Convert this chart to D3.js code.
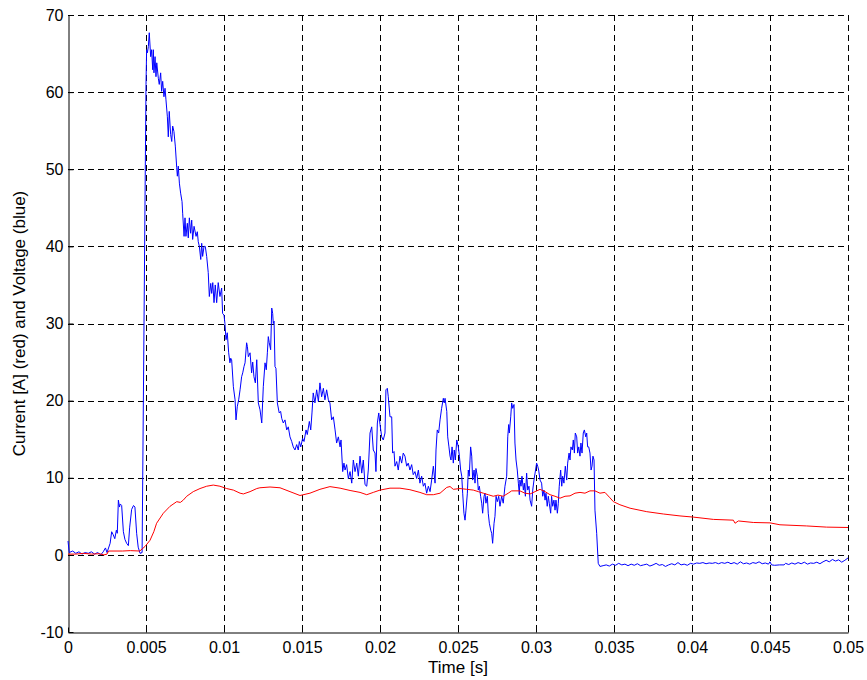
<!DOCTYPE html>
<html>
<head>
<meta charset="utf-8">
<script src="https://cdn.jsdelivr.net/npm/d3@7"></script>
<style>
  html, body { margin: 0; padding: 0; background: #fff; }
  svg { display: block; }
  text { font-family: "Liberation Sans", Arial, Helvetica, sans-serif; fill: #000; }
</style>
</head>
<body>
<svg id="chart" width="867" height="680"></svg>
<script>
// ---- data (time in ms, value) ----
const xTicks = [0, 0.005, 0.01, 0.015, 0.02, 0.025, 0.03, 0.035, 0.04, 0.045, 0.05];
const xTickLabels = ["0", "0.005", "0.01", "0.015", "0.02", "0.025", "0.03", "0.035", "0.04", "0.045", "0.05"];
const yTicks = [-10, 0, 10, 20, 30, 40, 50, 60, 70];
const yTickLabels = ["-10", "0", "10", "20", "30", "40", "50", "60", "70"];
const xLabel = "Time [s]";
const yLabel = "Current [A] (red) and Voltage (blue)";

// voltage (blue): [time ms, volts]
const voltage = [
[0,1.8],[0.08,0.3],[0.3,0.5],[0.5,0.2],[0.7,0.4],[0.9,0.1],[1.1,0.3],[1.3,0.2],[1.5,0.4],[1.7,0.1],[1.9,0.3],[2.1,0.0],[2.26,0.4],[2.4,0.9],[2.5,0.3],[2.7,1.5],[2.8,3.0],[2.9,2.6],[3.0,2.1],[3.1,3.2],[3.16,2.8],[3.23,7.1],[3.3,6.2],[3.35,6.6],[3.44,6.4],[3.55,3.0],[3.65,2.0],[3.76,1.5],[3.87,1.2],[3.95,3.5],[4.08,5.9],[4.2,6.4],[4.29,6.2],[4.4,2.8],[4.5,1.0],[4.62,0.2],[4.75,0.3],
[5.0,61],[5.04,65.5],[5.09,65.1],[5.15,65.9],[5.21,67.7],[5.3,64.6],[5.36,65.5],[5.43,62.9],[5.47,65.5],[5.51,62.5],[5.58,64.6],[5.64,62.0],[5.69,63.8],[5.79,61.8],[5.85,61.0],[5.94,62.5],[6.0,60.1],[6.07,61.4],[6.15,59.4],[6.22,60.5],[6.28,59.0],[6.37,56.8],[6.43,54.2],[6.49,57.5],[6.58,54.5],[6.65,53.6],[6.71,55.6],[6.79,54.9],[6.88,53.0],[6.97,50.2],[7.01,49.1],[7.07,50.4],[7.14,48.2],[7.22,46.9],[7.31,45.8],[7.35,44.3],[7.44,41.3],[7.5,43.7],[7.56,41.3],[7.65,43.0],[7.71,41.1],[7.78,43.7],[7.86,41.7],[7.93,43.4],[7.99,40.9],[8.08,42.6],[8.21,41.3],[8.29,41.9],[8.35,40.6],[8.42,40.0],[8.51,38.3],[8.57,40.4],[8.63,38.7],[8.72,40.0],[8.8,40.0],[8.89,38.7],[8.99,36.6],[9.06,33.5],[9.15,35.2],[9.21,33.9],[9.28,35.3],[9.36,32.7],[9.44,35.0],[9.53,32.7],[9.63,35.3],[9.74,33.5],[9.85,34.6],[9.91,31.3],[10.0,31.1],[10.06,30.0],[10.13,27.9],[10.21,28.8],[10.3,26.2],[10.38,24.9],[10.43,25.5],[10.49,25.3],[10.6,21.8],[10.71,20.1],[10.77,17.5],[10.85,19.2],[10.94,20.1],
[11.03,21.4],[11.13,23.1],[11.2,23.6],[11.28,24.4],[11.35,24.9],[11.45,27.5],[11.5,27.0],[11.56,25.7],[11.67,26.2],[11.77,23.6],[11.84,25.0],[11.92,23.1],[12.01,22.3],[12.1,25.3],[12.2,19.7],[12.31,18.8],[12.42,17.1],[12.52,21.8],[12.63,24.9],[12.71,24.0],[12.78,26.2],[12.84,28.3],[12.9,27.5],[12.99,26.6],[13.06,32.0],[13.12,31.3],[13.16,30.0],[13.21,30.3],[13.27,24.4],[13.33,24.2],[13.42,19.7],[13.54,18.4],[13.63,18.6],[13.7,17.7],[13.8,17.1],[13.91,17.5],[14.02,16.2],[14.12,16.6],[14.23,15.3],[14.34,14.7],[14.44,14.0],[14.55,13.6],[14.66,14.3],[14.76,13.6],[14.83,14.7],[14.92,14.0],[15.04,15.1],[15.13,14.7],[15.26,16.2],[15.34,15.6],[15.47,17.3],[15.56,16.2],[15.64,18.4],[15.72,21.0],[15.83,19.7],[15.94,21.4],[16.05,19.9],[16.15,22.3],[16.26,20.5],[16.37,21.6],[16.47,20.1],[16.58,21.4],[16.69,20.1],[16.79,19.7],[16.9,17.5],[17.01,17.9],[17.12,16.2],[17.22,14.5],[17.33,15.3],[17.44,14.0],[17.5,14.9],[17.61,10.8],[17.69,11.9],[17.76,11.0],[17.86,11.7],[17.97,9.9],[18.08,10.8],[18.19,9.3],[18.29,12.3],[18.4,10.8],[18.51,11.9],[18.61,10.2],[18.72,12.8],[18.83,10.6],[18.93,12.3],[19.04,9.1],[19.15,8.9],[19.25,11.0],[19.36,15.8],[19.47,16.6],[19.57,13.6],[19.68,13.2],[19.74,10.8],[19.83,17.1],[19.92,18.4],[20.0,16.9],[20.11,15.3],[20.21,14.9],[20.32,15.8],[20.38,21.4],[20.47,21.6],[20.53,20.5],[20.64,17.9],[20.75,17.9],[20.81,13.2],[20.9,13.4],[20.96,11.5],
[21.07,12.1],[21.17,11.0],[21.28,12.8],[21.39,11.9],[21.49,13.2],[21.6,12.8],[21.71,11.5],[21.81,11.9],[21.92,11.0],[22.03,11.7],[22.13,10.4],[22.24,10.8],[22.35,9.9],[22.46,11.0],[22.56,9.3],[22.67,10.2],[22.78,8.9],[22.88,9.3],[22.99,8.0],[23.1,8.9],[23.21,8.2],[23.31,9.7],[23.42,11.5],[23.53,9.3],[23.59,13.6],[23.67,16.2],[23.76,15.8],[23.85,17.5],[23.95,19.0],[24.06,20.3],[24.12,19.7],[24.17,20.3],[24.28,18.6],[24.34,15.3],[24.42,14.0],[24.49,12.8],[24.55,12.3],[24.62,14.0],[24.7,11.9],[24.76,13.6],[24.83,12.3],[24.92,14.9],[25.02,14.0],[25.09,12.8],[25.17,11.0],[25.24,10.2],[25.3,8.0],[25.38,5.4],[25.45,4.5],[25.51,5.8],[25.6,8.0],[25.66,11.0],[25.72,10.2],[25.81,14.0],[25.88,12.8],[25.94,9.7],[26.03,11.0],[26.09,9.3],[26.15,11.2],[26.24,10.2],[26.3,8.4],[26.37,8.9],[26.45,7.6],[26.52,6.7],[26.58,5.4],[26.67,7.6],[26.73,8.0],[26.79,6.7],[26.88,7.6],[26.94,5.4],[27.01,4.1],[27.1,3.2],[27.16,2.8],[27.22,1.5],[27.31,4.1],[27.37,5.0],[27.44,7.6],[27.52,6.9],[27.61,7.6],[27.69,6.3],[27.8,7.6],[27.9,6.7],[28.01,8.9],[28.12,10.2],[28.19,15.3],[28.25,16.9],[28.29,15.8],[28.38,17.9],[28.44,19.7],[28.51,19.0],[28.59,19.5],[28.65,14.5],[28.72,12.3],[28.8,11.0],[28.87,9.3],[28.93,7.8],[28.97,9.7],[29.04,8.9],[29.1,10.2],[29.19,8.4],[29.25,9.3],[29.32,7.6],[29.4,10.6],[29.47,8.4],[29.55,8.9],[29.62,7.1],[29.72,6.3],[29.79,8.4],[29.87,9.7],[29.94,10.6],
[30.04,11.9],[30.11,11.5],[30.17,11.0],[30.26,9.7],[30.36,9.3],[30.43,7.6],[30.51,8.4],[30.58,7.1],[30.64,8.0],[30.72,6.3],[30.79,7.6],[30.85,6.7],[30.94,5.4],[31.0,7.6],[31.07,6.3],[31.15,7.1],[31.22,5.8],[31.28,7.1],[31.37,5.4],[31.43,6.7],[31.49,8.9],[31.58,11.0],[31.65,8.9],[31.71,10.2],[31.79,9.3],[31.88,11.5],[31.97,9.7],[32.03,11.9],[32.12,13.2],[32.18,12.3],[32.24,14.0],[32.33,13.6],[32.39,14.9],[32.46,13.2],[32.52,15.8],[32.61,15.3],[32.67,13.2],[32.74,14.0],[32.82,12.8],[32.88,14.5],[32.95,13.2],[33.03,15.8],[33.1,16.2],[33.19,15.3],[33.25,15.8],[33.31,14.0],[33.38,14.0],[33.46,13.2],[33.53,11.0],[33.59,11.5],[33.65,12.8],[33.72,12.3],[33.78,5.8],[33.89,2.8],[33.99,-1.1],[34.1,-1.5],
[34.3,-1.4],[34.5,-1.3],[34.7,-1.45],[34.9,-1.2],[35.1,-1.35],[35.3,-1.1],[35.5,-1.3],[35.7,-1.2],[35.9,-1.4],[36.1,-1.2],[36.3,-1.35],[36.5,-1.15],[36.7,-1.4],[36.9,-1.3],[37.1,-1.2],[37.3,-1.45],[37.5,-1.3],[37.7,-1.1],[37.9,-1.35],[38.1,-1.25],[38.3,-1.5],[38.5,-1.3],[38.7,-1.15],[38.9,-1.3],[39.1,-1.0],[39.3,-1.3],[39.5,-1.2],[39.7,-1.35],[39.9,-1.1],[40.1,-1.2],[40.3,-1.05],[40.5,-1.1],[40.7,-1.0],[40.9,-1.15],[41.1,-1.05],[41.3,-1.1],[41.5,-1.0],[41.7,-1.15],[41.9,-1.0],[42.1,-1.1],[42.3,-0.95],[42.5,-1.15],[42.7,-1.0],[42.9,-1.2],[43.1,-0.9],[43.3,-1.15],[43.5,-1.05],[43.7,-1.2],[43.9,-1.0],[44.1,-1.1],[44.3,-0.9],[44.5,-1.15],[44.7,-1.05],[44.9,-1.2],[45.0,-0.9],[45.1,-1.3],[45.3,-1.35],[45.6,-1.3],[45.9,-1.3],[46.0,-1.1],[46.2,-1.25],[46.4,-1.05],[46.6,-1.2],[46.8,-1.0],[47.0,-1.15],[47.2,-0.95],[47.4,-1.2],[47.6,-1.05],[47.8,-1.1],[48.0,-0.95],[48.2,-1.15],[48.4,-0.9],[48.6,-0.7],[48.8,-0.9],[49.0,-0.6],[49.2,-0.8],[49.4,-0.65],[49.6,-0.95],[49.8,-0.7],[50.0,-0.4]
];

// current (red): [time ms, amperes]
const current = [
[0,0.1],[0.5,0.1],[1.0,0.2],[1.5,0.1],[2.0,0.15],[2.3,0.0],[2.5,0.1],[2.6,0.5],[3.5,0.5],[4.0,0.55],[4.6,0.5],[4.94,1.1],[5.26,1.9],[5.5,3.0],[5.68,4.1],[6.11,5.4],[6.54,6.3],[6.97,6.9],[7.2,6.8],[7.39,7.1],[7.61,7.6],[8.03,8.2],[8.46,8.6],[8.89,8.9],[9.31,9.05],[9.74,8.9],[10.17,8.6],[10.6,8.4],[11.03,8.0],[11.24,7.9],[11.67,8.2],[12.1,8.6],[12.3,8.7],[12.95,8.8],[13.59,8.7],[14.23,8.2],[14.87,7.7],[15.51,8.0],[16.15,8.5],[16.79,8.85],[17.44,8.65],[18.08,8.35],[18.72,8.1],[19.15,7.8],[19.57,8.1],[20.0,8.4],[20.64,8.65],[21.28,8.65],[21.92,8.45],[22.56,8.1],[22.99,7.8],[23.42,7.8],[23.85,8.0],[24.28,8.75],[24.49,8.86],[24.7,8.5],[25.13,8.6],[25.56,8.5],[25.98,8.4],[26.3,8.2],[26.62,8.0],[26.94,7.8],[27.26,7.6],[27.56,7.75],[27.9,7.6],[28.22,8.0],[28.44,8.3],[28.97,8.3],[29.29,8.0],[29.62,7.9],[29.94,8.2],[30.26,8.5],[30.58,8.2],[30.9,7.8],[31.22,7.6],[31.54,7.35],[31.86,7.6],[32.18,7.65],[32.5,8.0],[32.82,8.1],[33.14,8.0],[33.46,8.3],[33.78,8.3],[34.1,8.0],[34.42,8.1],[34.74,7.4],[34.96,6.9],[35.38,6.5],[36.03,6.05],[37.1,5.6],[38.16,5.3],[39.23,5.05],[40.08,4.9],[41.37,4.6],[42.65,4.5],[42.76,4.1],[42.97,4.4],[43.93,4.2],[45.0,4.15],[45.64,3.9],[47.35,3.75],[48.63,3.6],[50.0,3.55]
];

// ---- chart ----
const svg = d3.select("#chart");
const plot = { left: 68, right: 848, top: 15, bottom: 632 };

const x = d3.scaleLinear().domain([0, 0.05]).range([plot.left, plot.right]);
const y = d3.scaleLinear().domain([-10, 70]).range([plot.bottom, plot.top]);

const grid = svg.append("g").attr("class", "grid")
  .attr("stroke", "#000").attr("stroke-width", 1).attr("stroke-dasharray", "6,4").attr("fill", "none");

grid.selectAll("line.v").data(xTicks.slice(1)).join("line")
  .attr("x1", d => Math.round(x(d)) + 0.5).attr("x2", d => Math.round(x(d)) + 0.5)
  .attr("y1", plot.top).attr("y2", plot.bottom);
grid.selectAll("line.h").data(yTicks.slice(1)).join("line")
  .attr("y1", d => Math.round(y(d)) + 0.5).attr("y2", d => Math.round(y(d)) + 0.5)
  .attr("x1", plot.left).attr("x2", plot.right);

// axes
const xAxis = d3.axisBottom(x).tickValues(xTicks)
  .tickFormat((d, i) => xTickLabels[i]).tickSizeInner(-5).tickSizeOuter(0).tickPadding(9);
const yAxis = d3.axisLeft(y).tickValues(yTicks)
  .tickFormat((d, i) => yTickLabels[i]).tickSizeInner(-5).tickSizeOuter(0).tickPadding(5);

const gx = svg.append("g").attr("transform", `translate(0,${plot.bottom + 0.5})`).call(xAxis);
const gy = svg.append("g").attr("transform", `translate(${plot.left + 0.5},0)`).call(yAxis);
[gx, gy].forEach(g => {
  g.select(".domain").attr("stroke", "#000").attr("stroke-width", 1);
  g.selectAll(".tick line").attr("stroke", "#000");
  g.selectAll(".tick text").attr("font-size", 16).attr("font-family", "'Liberation Sans', Arial, sans-serif").attr("fill", "#000");
});

// lines
const line = d3.line().x(d => x(d[0] / 1000)).y(d => y(d[1]));
svg.append("path").datum(voltage).attr("d", line)
  .attr("fill", "none").attr("stroke", "#0000ff").attr("stroke-width", 1).attr("stroke-linejoin", "round");
svg.append("path").datum(current).attr("d", line)
  .attr("fill", "none").attr("stroke", "#ff0000").attr("stroke-width", 1).attr("stroke-linejoin", "round");

// labels
svg.append("text").attr("x", (plot.left + plot.right) / 2).attr("y", 673)
  .attr("text-anchor", "middle").attr("font-size", 17).text(xLabel);
svg.append("text").attr("transform", `translate(25,${(plot.top + plot.bottom) / 2}) rotate(-90)`)
  .attr("text-anchor", "middle").attr("font-size", 17).text(yLabel);
</script>
</body>
</html>
